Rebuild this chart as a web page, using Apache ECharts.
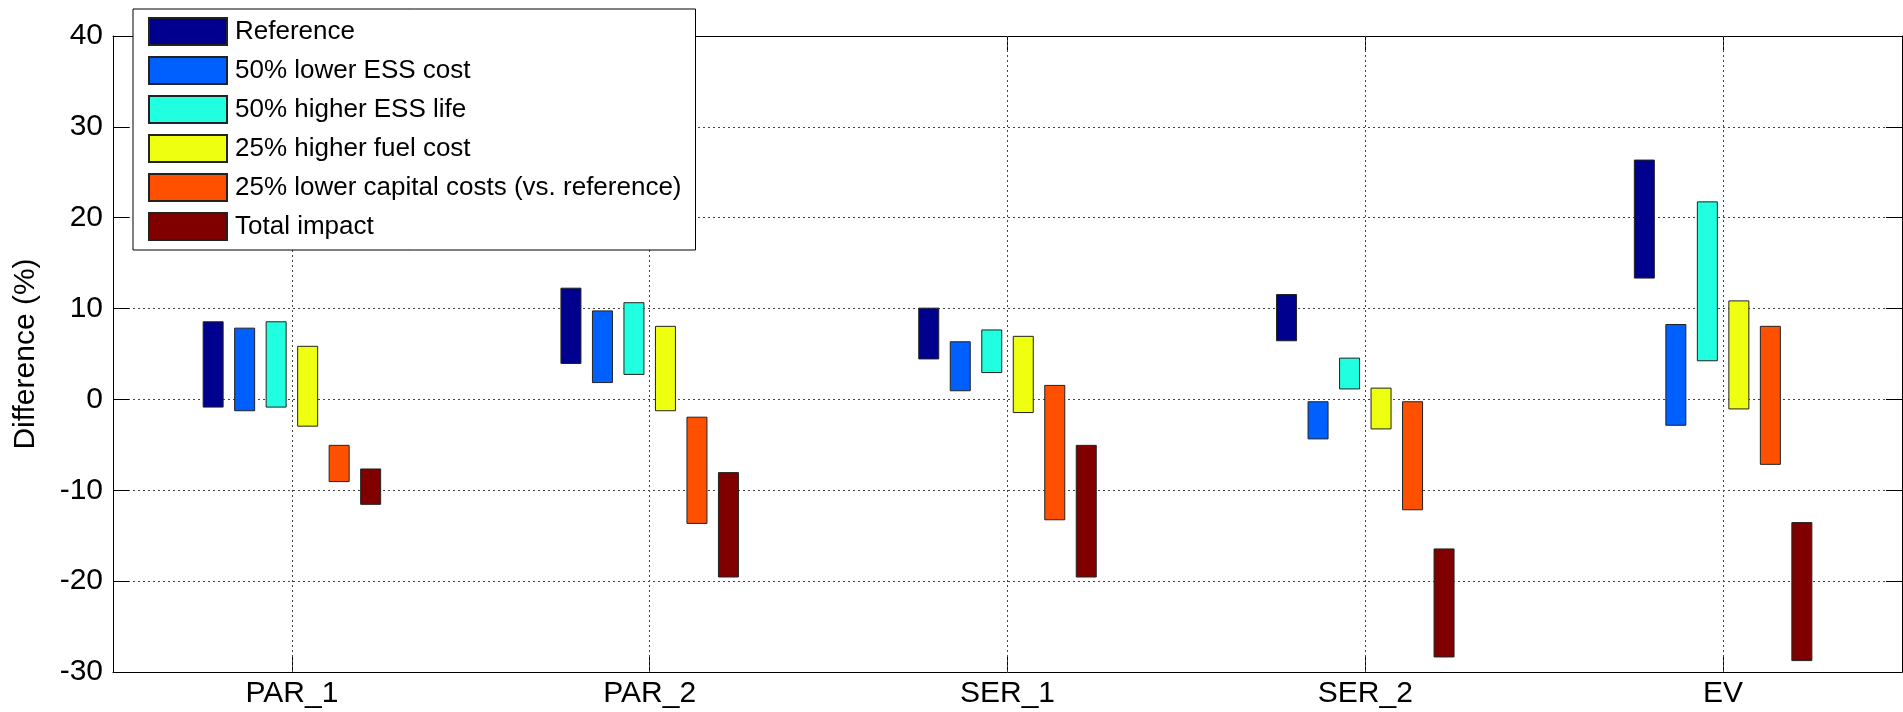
<!DOCTYPE html>
<html>
<head>
<meta charset="utf-8">
<title>Difference (%)</title>
<script src="https://cdn.jsdelivr.net/npm/echarts@6/dist/echarts.min.js"></script>
<style>
  html, body { margin: 0; padding: 0; background: #fff; }
  #Echarts { width: 1903px; height: 712px; }
</style>
</head>
<body>
<div id="Echarts"></div>
<script>
// categories and y range
var categories = ['PAR_1', 'PAR_2', 'SER_1', 'SER_2', 'EV'];
var yMin = -30, yMax = 40, yStep = 10;

var seriesNames = [
    'Reference',
    '50% lower ESS cost',
    '50% higher ESS life',
    '25% higher fuel cost',
    '25% lower capital costs (vs. reference)',
    'Total impact'
];

// [low, high] for each category
var reference    = [[-0.9, 8.6], [3.9, 12.3], [4.4, 10.1], [6.4, 11.6], [13.3, 26.4]];
var lowerEss     = [[-1.3, 7.9], [1.8, 9.8], [0.9, 6.4], [-4.4, -0.2], [-2.9, 8.3]];
var higherLife   = [[-0.9, 8.6], [2.7, 10.7], [2.9, 7.7], [1.1, 4.6], [4.2, 21.8]];
var higherFuel   = [[-3.0, 5.9], [-1.3, 8.1], [-1.5, 7.0], [-3.3, 1.3], [-1.1, 10.9]];
var lowerCapital = [[-9.1, -5.0], [-13.7, -1.9], [-13.3, 1.6], [-12.2, -0.2], [-7.2, 8.1]];
var totalImpact  = [[-11.6, -7.6], [-19.6, -8.0], [-19.6, -5.0], [-28.4, -16.4], [-28.8, -13.5]];

var colors = ['#00008f', '#0060ff', '#20ffdf', '#efff10', '#ff5000', '#800000'];

var font = '"Liberation Sans", Arial, Helvetica, sans-serif';
var dotted = { color: '#444', type: [2, 3], width: 1 };

var myChart = echarts.init(document.getElementById('Echarts'));

// empty line series, only used to carry the vertical grid lines at category centres
var series = [{
    name: 'vgrid',
    type: 'line',
    silent: true,
    showSymbol: false,
    data: categories.map(function () { return null; }),
    markLine: {
        silent: true,
        z: 1,
        symbol: 'none',
        label: { show: false },
        lineStyle: dotted,
        data: categories.map(function (c) { return { xAxis: c }; })
    }
}];

// floating bars: transparent base + visible part, one stack per scenario
var ranges = [reference, lowerEss, higherLife, higherFuel, lowerCapital, totalImpact];
ranges.forEach(function (r, i) {
    series.push({
        name: 'base' + i,
        type: 'bar',
        stack: 's' + i,
        stackStrategy: 'all',
        barWidth: 21,
        barGap: '50%',
        silent: true,
        itemStyle: { color: 'rgba(0,0,0,0)' },
        data: r.map(function (d) { return d[0]; })
    });
    series.push({
        name: seriesNames[i],
        type: 'bar',
        stack: 's' + i,
        stackStrategy: 'all',
        barWidth: 21,
        barGap: '50%',
        itemStyle: { color: colors[i], borderColor: '#222', borderWidth: 1 },
        data: r.map(function (d) { return +(d[1] - d[0]).toFixed(2); })
    });
});

var option = {
    animation: false,
    textStyle: { fontFamily: font, color: '#000' },
    grid: { left: 113, right: 1, top: 36, bottom: 40 },
    legend: {
        data: seriesNames,
        orient: 'vertical',
        left: 133,
        top: 9,
        padding: [8, 14, 9, 15],
        itemWidth: 78,
        itemHeight: 27,
        itemGap: 10,
        icon: 'rect',
        backgroundColor: '#fff',
        borderColor: '#000',
        borderWidth: 1,
        borderRadius: 0,
        textStyle: { fontFamily: font, fontSize: 26, color: '#000', padding: [0, 0, 0, 3] }
    },
    xAxis: [{
        type: 'category',
        data: categories,
        position: 'bottom',
        axisLine: { onZero: false, lineStyle: { color: '#000', width: 1 } },
        axisTick: { show: true, inside: true, alignWithLabel: true, length: 16, lineStyle: { color: '#000' } },
        axisLabel: { fontFamily: font, fontSize: 30, color: '#000', margin: 7 },
        splitLine: { show: false }
    }, {
        type: 'category',
        data: categories,
        position: 'top',
        axisLine: { onZero: false, lineStyle: { color: '#000', width: 1 } },
        axisTick: { show: true, inside: true, alignWithLabel: true, length: 16, lineStyle: { color: '#000' } },
        axisLabel: { show: false },
        splitLine: { show: false }
    }],
    yAxis: [{
        type: 'value',
        min: yMin,
        max: yMax,
        interval: yStep,
        name: 'Difference (%)',
        nameLocation: 'middle',
        nameGap: 72,
        nameTextStyle: { fontFamily: font, fontSize: 30, color: '#000' },
        axisLine: { show: true, lineStyle: { color: '#000', width: 1 } },
        axisTick: { show: true, inside: true, length: 16, lineStyle: { color: '#000' } },
        axisLabel: { fontFamily: font, fontSize: 30, color: '#000', margin: 10 },
        splitLine: { show: true, lineStyle: dotted }
    }, {
        type: 'value',
        min: yMin,
        max: yMax,
        interval: yStep,
        position: 'right',
        axisLine: { show: true, lineStyle: { color: '#000', width: 1 } },
        axisTick: { show: true, inside: true, length: 16, lineStyle: { color: '#000' } },
        axisLabel: { show: false },
        splitLine: { show: false }
    }],
    series: series
};

myChart.setOption(option);
</script>
</body>
</html>
